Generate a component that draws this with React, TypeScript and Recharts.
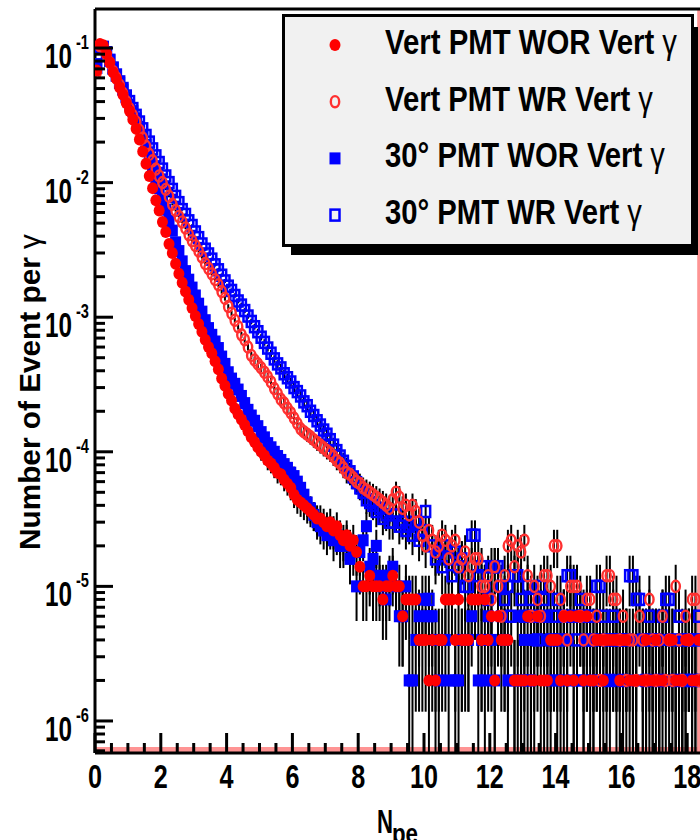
import React from 'react';
import {
  ScatterChart,
  Scatter,
  XAxis,
  YAxis,
  ErrorBar,
  Legend,
  ReferenceLine,
  ReferenceArea,
} from 'recharts';

// histogram binning in N_pe: 0.1 wide bins starting at 0 (bin i covers [0.1 i, 0.1 i + 0.1])
const BIN_START = 0;
const BIN_WIDTH = 0.1;
// weight of one event (the lowest populated level in the tails)
const EVENT_WEIGHT = 2e-6;

const X_MAX = 20;
const Y_MIN = 5.78e-7;
const Y_MAX = 0.195;

const X_LABELS = [0, 2, 4, 6, 8, 10, 12, 14, 16, 18];
const Y_EXPONENTS = [-1, -2, -3, -4, -5, -6];

// Vert PMT WOR Vert gamma  (one row = 1 N_pe)
const vertPmtWor = [
  0.068, 0.107, 0.105, 0.091, 0.078, 0.066, 0.059, 0.051, 0.045, 0.039,
  0.034, 0.0295, 0.0251, 0.0209, 0.017, 0.0138, 0.0112, 0.0091, 0.0074, 0.0062,
  0.0051, 0.0043, 0.0035, 0.003, 0.0025, 0.0021, 0.0018, 0.00155, 0.00135, 0.00117,
  1.02e-3, 8.9e-4, 7.8e-4, 6.8e-4, 6.0e-4, 5.4e-4, 4.7e-4, 4.1e-4, 3.5e-4, 3.1e-4,
  2.7e-4, 2.4e-4, 2.1e-4, 1.9e-4, 1.74e-4, 1.58e-4, 1.42e-4, 1.28e-4, 1.18e-4, 1.08e-4,
  1.0e-4, 9.4e-5, 8.6e-5, 8.2e-5, 7.6e-5, 7.0e-5, 6.8e-5, 6.2e-5, 5.8e-5, 5.4e-5,
  4.8e-5, 4.4e-5, 4.2e-5, 4.0e-5, 3.8e-5, 3.6e-5, 3.4e-5, 3.2e-5, 3.2e-5, 3.0e-5,
  2.8e-5, 3.0e-5, 2.6e-5, 2.8e-5, 2.4e-5, 2.2e-5, 2.4e-5, 2.0e-5, 2.2e-5, 1.8e-5,
  1.4e-5, 1.0e-5, 1.0e-5, 1.2e-5, 1.0e-5, 1.0e-5, 1.0e-5, 8e-6, 1.0e-5, 1.0e-5,
  1.2e-5, 1.0e-5, 1.0e-5, 6e-6, 8e-6, 8e-6, 8e-6, 8e-6, 4e-6, 4e-6,
  4e-6, 2e-6, 4e-6, 2e-6, 4e-6, 4e-6, 8e-6, 8e-6, 8e-6, 4e-6,
  8e-6, 4e-6, 4e-6, 4e-6, 8e-6, 8e-6, 8e-6, 4e-6, 8e-6, 4e-6,
  6e-6, 2e-6, 6e-6, 4e-6, 4e-6, 4e-6, null, 2e-6, 2e-6, 2e-6,
  2e-6, 6e-6, 2e-6, 2e-6, 6e-6, 2e-6, 2e-6, 2e-6, 4e-6, 4e-6,
  4e-6, 2e-6, 6e-6, 2e-6, 6e-6, 2e-6, 6e-6, 6e-6, 2e-6, 6e-6,
  2e-6, 2e-6, 4e-6, 4e-6, 2e-6, 4e-6, 4e-6, 4e-6, 4e-6, 2e-6,
  4e-6, 4e-6, 2e-6, 2e-6, 2e-6, null, 2e-6, 4e-6, 2e-6, 2e-6,
  4e-6, 2e-6, 2e-6, null, 4e-6, 4e-6, 2e-6, 2e-6, 2e-6, 4e-6,
  4e-6, 2e-6, 2e-6, 4e-6, 2e-6,
];

// Vert PMT WR Vert gamma
const vertPmtWr = [
  0.066, 0.104, 0.102, 0.09, 0.078, 0.067, 0.06, 0.053, 0.046, 0.04,
  0.0355, 0.0316, 0.0282, 0.0245, 0.0214, 0.0186, 0.0162, 0.0145, 0.0126, 0.0112,
  0.01, 0.0089, 0.0079, 0.0069, 0.0062, 0.0056, 0.0051, 0.0046, 0.0041, 0.0037,
  0.0034, 0.0031, 0.0028, 0.0025, 0.0023, 0.0021, 0.0019, 0.00174, 0.00155, 0.00138,
  1.2e-3, 1.07e-3, 9.5e-4, 8.5e-4, 7.4e-4, 6.8e-4, 6.0e-4, 5.2e-4, 4.8e-4, 4.5e-4,
  4.2e-4, 3.9e-4, 3.6e-4, 3.3e-4, 2.95e-4, 2.7e-4, 2.45e-4, 2.3e-4, 2.1e-4, 1.95e-4,
  1.78e-4, 1.62e-4, 1.48e-4, 1.41e-4, 1.35e-4, 1.29e-4, 1.23e-4, 1.17e-4, 1.12e-4, 1.07e-4,
  1.02e-4, 9.8e-5, 9.2e-5, 8.6e-5, 8.2e-5, 7.6e-5, 7.0e-5, 6.8e-5, 6.4e-5, 6.0e-5,
  5.8e-5, 5.4e-5, 5.2e-5, 5.0e-5, 4.8e-5, 4.6e-5, 4.4e-5, 4.2e-5, 4.0e-5, 3.8e-5,
  4.4e-5, 5.0e-5, 4.6e-5, 3.8e-5, 4.0e-5, 3.4e-5, 4.0e-5, 3.6e-5, 3.0e-5, 2.4e-5,
  2.0e-5, 2.6e-5, 2.2e-5, 1.8e-5, 2.0e-5, 2.4e-5, 2.2e-5, 1.6e-5, 2.0e-5, 2.2e-5,
  1.4e-5, 1.6e-5, 1.8e-5, 1.2e-5, 1.4e-5, 1.6e-5, 1.6e-5, 1.0e-5, 1.0e-5, 1.2e-5,
  8e-6, 1.4e-5, 1.0e-5, 6e-6, 1.2e-5, 2.0e-5, 2.2e-5, 1.4e-5, 2.0e-5, 1.8e-5,
  2.2e-5, 1.2e-5, 6e-6, 1.0e-5, 8e-6, 6e-6, 1.2e-5, 1.2e-5, 1.0e-5, 2.0e-5,
  2.0e-5, 8e-6, 6e-6, 4e-6, 1.0e-5, 1.0e-5, 1.0e-5, 6e-6, 4e-6, 8e-6,
  8e-6, 4e-6, 6e-6, 2e-6, 4e-6, 1.2e-5, 1.2e-5, 8e-6, 8e-6, 4e-6,
  6e-6, 2e-6, 4e-6, 4e-6, 2e-6, 6e-6, 4e-6, 2e-6, 8e-6, 4e-6,
  2e-6, 4e-6, 6e-6, 2e-6, 4e-6, 2e-6, 1.0e-5, 4e-6, 2e-6, 6e-6,
  4e-6, 8e-6, 8e-6, 2e-6, 4e-6,
];

// 30 deg PMT WOR Vert gamma
const tiltPmtWor = [
  0.076, 0.102, 0.102, 0.093, 0.081, 0.071, 0.063, 0.055, 0.049, 0.043,
  0.038, 0.034, 0.03, 0.026, 0.0224, 0.019, 0.0158, 0.0132, 0.011, 0.0091,
  0.0076, 0.0063, 0.0052, 0.0044, 0.0036, 0.0031, 0.0026, 0.0022, 0.0019, 0.00166,
  1.45e-3, 1.26e-3, 1.1e-3, 9.5e-4, 8.3e-4, 7.4e-4, 6.6e-4, 5.9e-4, 5.1e-4, 4.5e-4,
  3.9e-4, 3.5e-4, 3.2e-4, 2.9e-4, 2.6e-4, 2.3e-4, 2.05e-4, 1.86e-4, 1.7e-4, 1.55e-4,
  1.4e-4, 1.28e-4, 1.16e-4, 1.08e-4, 1.0e-4, 9.3e-5, 8.7e-5, 8.1e-5, 7.6e-5, 7.0e-5,
  6.6e-5, 6.0e-5, 5.4e-5, 4.8e-5, 4.2e-5, 3.8e-5, 3.4e-5, 3.0e-5, 2.8e-5, 2.6e-5,
  2.4e-5, 2.6e-5, 2.2e-5, 2.4e-5, 2.0e-5, 2.0e-5, 2.2e-5, 1.6e-5, 1.8e-5, 1.0e-5,
  1.8e-5, 2.2e-5, 2.8e-5, 1.4e-5, 1.6e-5, 2.0e-5, 1.2e-5, 1.0e-5, 8e-6, 1.2e-5,
  1.4e-5, 1.0e-5, 6e-6, 6e-6, 1.0e-5, 2e-6, 2e-6, 4e-6, 6e-6, 8e-6,
  8e-6, 6e-6, 6e-6, 4e-6, 2e-6, null, 4e-6, 2e-6, null, 2e-6,
  2e-6, 4e-6, null, 4e-6, 6e-6, null, 2e-6, 4e-6, 2e-6, 6e-6,
  4e-6, 2e-6, null, 6e-6, 4e-6, 2e-6, null, 2e-6, 6e-6, 2e-6,
  4e-6, 2e-6, 2e-6, 4e-6, 6e-6, 6e-6, 6e-6, 4e-6, 2e-6, null,
  2e-6, null, 2e-6, 4e-6, null, 2e-6, 2e-6, null, 2e-6, 4e-6,
  null, 2e-6, 4e-6, 2e-6, null, 2e-6, null, 4e-6, 2e-6, null,
  2e-6, 4e-6, null, 2e-6, 4e-6, null, 2e-6, 4e-6, 4e-6, 2e-6,
  null, 2e-6, 4e-6, 4e-6, 2e-6, null, 2e-6, 4e-6, 2e-6, 2e-6,
  null, 4e-6, 2e-6, 2e-6, 4e-6,
];

// 30 deg PMT WR Vert gamma
const tiltPmtWr = [
  0.072, 0.1, 0.101, 0.092, 0.081, 0.071, 0.063, 0.056, 0.05, 0.044,
  0.04, 0.0355, 0.0316, 0.0282, 0.0251, 0.0224, 0.02, 0.0178, 0.0158, 0.0141,
  0.0126, 0.0112, 0.01, 0.0089, 0.0079, 0.0071, 0.0063, 0.0058, 0.0052, 0.0048,
  4.3e-3, 3.9e-3, 3.5e-3, 3.2e-3, 2.95e-3, 2.7e-3, 2.45e-3, 2.25e-3, 2.05e-3, 1.86e-3,
  1.7e-3, 1.58e-3, 1.45e-3, 1.32e-3, 1.23e-3, 1.12e-3, 1.02e-3, 9.3e-4, 8.5e-4, 7.8e-4,
  7.1e-4, 6.5e-4, 5.9e-4, 5.4e-4, 4.9e-4, 4.5e-4, 4.2e-4, 3.8e-4, 3.55e-4, 3.3e-4,
  3.0e-4, 2.8e-4, 2.6e-4, 2.35e-4, 2.2e-4, 2.0e-4, 1.86e-4, 1.7e-4, 1.58e-4, 1.45e-4,
  1.35e-4, 1.23e-4, 1.12e-4, 1.02e-4, 9.3e-5, 8.5e-5, 7.8e-5, 7.1e-5, 6.5e-5, 5.9e-5,
  5.4e-5, 5.0e-5, 4.4e-5, 4.2e-5, 4.0e-5, 3.6e-5, 3.8e-5, 3.2e-5, 3.4e-5, 3.0e-5,
  3.0e-5, 3.4e-5, 2.8e-5, 3.0e-5, 2.6e-5, 2.8e-5, 2.4e-5, 3.0e-5, 2.2e-5, 2.6e-5,
  3.6e-5, 8e-6, 2.0e-5, 1.6e-5, 1.8e-5, 1.4e-5, 2.0e-5, 1.6e-5, 1.2e-5, 1.8e-5,
  1.4e-5, 1.6e-5, 1.0e-5, 1.0e-5, 2.4e-5, 2.4e-5, 1.2e-5, 1.4e-5, 1.0e-5, 8e-6,
  1.4e-5, 1.4e-5, 1.4e-5, 1.0e-5, 8e-6, 1.0e-5, 6e-6, 1.2e-5, 1.2e-5, 8e-6,
  6e-6, 1.0e-5, 8e-6, 6e-6, 4e-6, 1.0e-5, 8e-6, 6e-6, 4e-6, 6e-6,
  8e-6, 4e-6, 6e-6, 1.2e-5, 1.2e-5, 6e-6, 4e-6, 8e-6, 6e-6, 4e-6,
  6e-6, 4e-6, 1.0e-5, 1.0e-5, 6e-6, 4e-6, 2e-6, 6e-6, 4e-6, 4e-6,
  2e-6, 4e-6, 1.2e-5, 1.2e-5, 8e-6, 8e-6, 4e-6, 2e-6, 6e-6, 4e-6,
  4e-6, 2e-6, 6e-6, 8e-6, 8e-6, 4e-6, 2e-6, 6e-6, 4e-6, 2e-6,
  4e-6, 2e-6, 4e-6, 6e-6, 2e-6,
];

const FONT = "'Liberation Sans', Arial, Helvetica, sans-serif";

const SERIES = [
  { key: 'vertWor', label: 'Vert PMT WOR Vert', values: vertPmtWor, color: '#ff0000', textWidth: 292 },
  { key: 'vertWr', label: 'Vert PMT WR Vert', values: vertPmtWr, color: '#ff3030', textWidth: 268 },
  { key: 'tiltWor', label: '30\u00b0 PMT WOR Vert', values: tiltPmtWor, color: '#0000ff', textWidth: 280 },
  { key: 'tiltWr', label: '30\u00b0 PMT WR Vert', values: tiltPmtWr, color: '#0000ff', textWidth: 257 },
];

// Poisson error of a bin, lower end kept inside the log axis
const poissonErr = (v: number) => {
  const s = Math.sqrt(v * EVENT_WEIGHT);
  return [Math.min(s, v - Y_MIN), s];
};

const toPoints = (values: (number | null)[]) =>
  values.flatMap((v, i) =>
    v == null
      ? []
      : [{ x: +(BIN_START + BIN_WIDTH * (i + 0.5)).toFixed(2), y: v, err: poissonErr(v) }]
  );

const X_TICKS = Array.from({ length: X_MAX * 2 + 1 }, (_, i) => i * 0.5);
const Y_TICKS = [-7, -6, -5, -4, -3, -2, -1]
  .flatMap((e) => [1, 2, 3, 4, 5, 6, 7, 8, 9].map((m) => Number((m * 10 ** e).toPrecision(3))))
  .filter((v) => v >= Y_MIN && v <= Y_MAX);

function Marker({ kind, cx, cy }: { kind: string; cx: number; cy: number }) {
  if (kind === 'vertWor') return <ellipse cx={cx} cy={cy} rx={5.5} ry={6} fill="#ff0000" />;
  if (kind === 'vertWr')
    return <ellipse cx={cx} cy={cy} rx={4.2} ry={5.6} fill="none" stroke="#ff3030" strokeWidth={2.4} />;
  if (kind === 'tiltWor') return <rect x={cx - 5.5} y={cy - 6} width={11} height={12} fill="#0000ff" />;
  return (
    <rect x={cx - 4.5} y={cy - 5.5} width={9} height={11} fill="none" stroke="#0000ff" strokeWidth={2.5} />
  );
}

function YTick(props: any) {
  const { x, y, payload } = props;
  const exp = Y_EXPONENTS.find((e) => Math.abs(Math.log10(payload.value) - e) < 1e-6);
  const major = exp !== undefined;
  return (
    <g>
      <line x1={x} x2={x + (major ? 18 : 10)} y1={y} y2={y} stroke="#000" strokeWidth={3} />
      {major && (
        <g fontFamily={FONT} fontWeight="bold" fill="#000">
          <text x={x - 23} y={y + 20} fontSize={35} textAnchor="end" textLength={27} lengthAdjust="spacingAndGlyphs">
            10
          </text>
          <text x={x - 19} y={y + 1} fontSize={21} textLength={13} lengthAdjust="spacingAndGlyphs">
            {String(exp)}
          </text>
        </g>
      )}
    </g>
  );
}

function XTick(props: any) {
  const { x, y, payload } = props;
  const v = payload.value;
  const major = v % 2 === 0;
  const labelled = X_LABELS.includes(v);
  return (
    <g>
      <line x1={x} x2={x} y1={y} y2={y - (major ? 20 : 10)} stroke="#000" strokeWidth={3} />
      {labelled && (
        <text
          x={x}
          y={y + 35}
          textAnchor="middle"
          fontFamily={FONT}
          fontWeight="bold"
          fontSize={33}
          textLength={String(v).length * 14}
          lengthAdjust="spacingAndGlyphs"
          fill="#000"
        >
          {v}
        </text>
      )}
    </g>
  );
}

function LegendBox({ payload }: any) {
  const names = (payload || []).map((p: any) => p.value);
  const rows = names.length ? SERIES.filter((s) => names.includes(s.label)) : SERIES;
  return (
    <svg width={416} height={241} style={{ display: 'block' }}>
      <rect x={1.5} y={1.5} width={409} height={230} fill="#f1f1f1" stroke="#000" strokeWidth={3} />
      <rect x={9} y={231} width={407} height={10} fill="#000" />
      <rect x={410} y={13} width={6} height={228} fill="#000" />
      {rows.map((s, i) => {
        const cy = 31 + i * 56.7;
        return (
          <g key={s.key}>
            <Marker kind={s.key} cx={53} cy={cy} />
            <text
              x={0}
              y={0}
              transform={`translate(103 ${cy + 9}) scale(1 1.16)`}
              fontFamily={FONT}
              fontWeight="bold"
              fontSize={30}
              textLength={s.textWidth}
              lengthAdjust="spacingAndGlyphs"
              fill="#000"
            >
              {s.label}
              <tspan fontWeight="normal"> γ</tspan>
            </text>
          </g>
        );
      })}
    </svg>
  );
}

export default function App() {
  return (
    <div
      style={{
        position: 'fixed',
        left: 0,
        top: 0,
        width: 700,
        height: 840,
        overflow: 'hidden',
        background: '#fff',
      }}
    >
      <ScatterChart width={762} height={840} margin={{ top: 9, right: 9, bottom: 0, left: 0 }}>
        <XAxis
          type="number"
          dataKey="x"
          domain={[0, X_MAX]}
          allowDataOverflow
          ticks={X_TICKS}
          interval={0}
          tick={<XTick />}
          tickLine={false}
          tickSize={0}
          tickMargin={0}
          height={87}
          axisLine={{ stroke: '#000', strokeWidth: 3 }}
          label={{
            content: () => (
              <g fontFamily={FONT} fontWeight="bold" fill="#000">
                <text x={377} y={833} fontSize={34} textLength={16} lengthAdjust="spacingAndGlyphs">
                  N
                </text>
                <text x={392} y={843} fontSize={28} textLength={26} lengthAdjust="spacingAndGlyphs">
                  pe
                </text>
              </g>
            ),
          }}
        />
        <YAxis
          type="number"
          dataKey="y"
          scale="log"
          domain={[Y_MIN, Y_MAX]}
          allowDataOverflow
          ticks={Y_TICKS}
          interval={0}
          tick={<YTick />}
          tickLine={false}
          tickSize={0}
          tickMargin={0}
          width={95}
          axisLine={{ stroke: '#000', strokeWidth: 3 }}
          label={{
            content: () => (
              <text
                x={40}
                y={392}
                transform="rotate(-90 40 392)"
                textAnchor="middle"
                fontFamily={FONT}
                fontWeight="bold"
                fontSize={29}
                textLength={316}
                lengthAdjust="spacingAndGlyphs"
                fill="#000"
              >
                Number of Event per <tspan fontWeight="normal">γ</tspan>
              </text>
            ),
          }}
        />
        <ReferenceArea y1={Y_MIN} y2={6.4e-7} x1={0} x2={X_MAX} fill="#ff9494" fillOpacity={1} stroke="none" />
        {[...SERIES].reverse().map((s) => (
          <Scatter
            key={s.key}
            name={s.label}
            data={toPoints(s.values)}
            fill={s.color}
            isAnimationActive={false}
            shape={(p: any) => <Marker kind={s.key} cx={p.cx} cy={p.cy} />}
          >
            <ErrorBar dataKey="err" direction="y" width={0} stroke="#000" strokeWidth={2} />
          </Scatter>
        ))}
        <ReferenceLine x={18.35} stroke="#ff9494" strokeWidth={3} />
        <ReferenceLine y={Y_MAX} stroke="#000" strokeWidth={3} />
        <Legend
          layout="vertical"
          align="center"
          verticalAlign="middle"
          content={(props: any) => <LegendBox payload={props.payload} />}
          wrapperStyle={{ position: 'absolute', left: 282, top: 14, width: 416, height: 241, margin: 0 }}
        />
      </ScatterChart>
    </div>
  );
}
